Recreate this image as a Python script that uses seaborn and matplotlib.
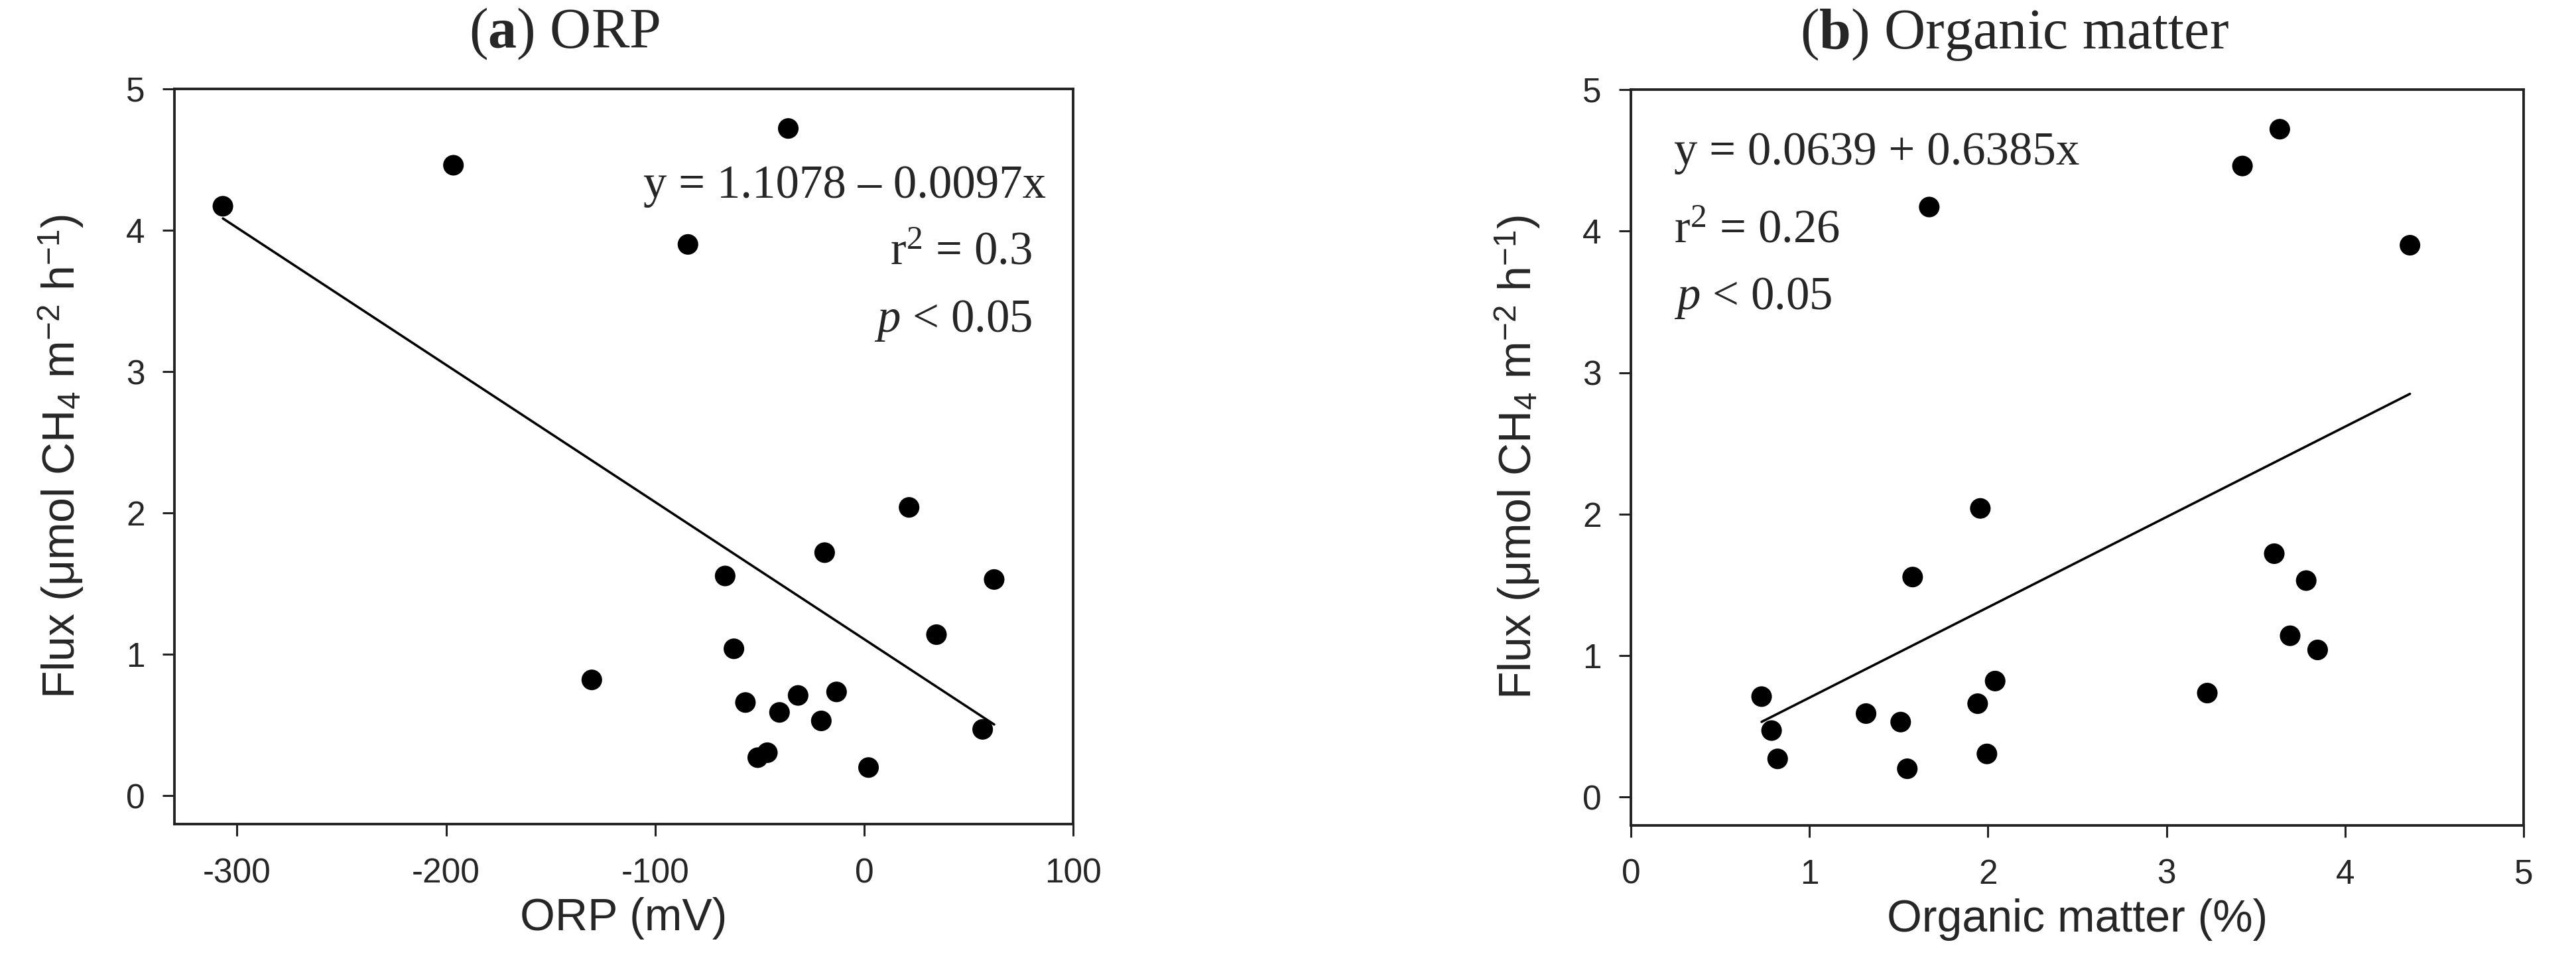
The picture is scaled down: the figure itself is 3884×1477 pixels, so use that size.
import matplotlib
matplotlib.use("Agg")
import matplotlib.pyplot as plt
import seaborn as sns
import pandas as pd

# values (one row per sampling site)
flux = [4.72, 4.46, 4.17, 3.90, 2.04, 1.72, 1.555, 1.53, 1.14, 1.04,
        0.82, 0.735, 0.71, 0.66, 0.59, 0.53, 0.47, 0.305, 0.27, 0.20]
orp = [-36.3, -196.5, -306.8, -84.3, 21.5, -18.9, -66.5, 62.2, 34.6, -62.3,
       -130.3, -13.2, -31.6, -56.8, -40.5, -20.5, 56.7, -46.3, -50.9, 2.1]
organic = [3.634, 3.425, 1.671, 4.363, 1.957, 3.603, 1.578, 3.782, 3.692, 3.846,
           2.04, 3.228, 0.732, 1.942, 1.317, 1.511, 0.788, 1.994, 0.822, 1.548]

# regression coefficients printed on the chart
orp_fit = (1.1078, -0.0097)
om_fit = (0.0639, 0.6385)

df = pd.DataFrame({"flux": flux, "orp": orp, "om": organic})

sns.set_style("ticks")
plt.rcParams["font.family"] = ["Liberation Sans", "DejaVu Sans"]
plt.rcParams["mathtext.fontset"] = "custom"
plt.rcParams["mathtext.rm"] = "Liberation Serif"
plt.rcParams["mathtext.it"] = "Liberation Serif:italic"
plt.rcParams["mathtext.bf"] = "Liberation Serif:bold"
plt.rcParams["mathtext.sf"] = "Liberation Sans"

fig = plt.figure(figsize=(19.42, 7.385), dpi=200)
ax1 = fig.add_axes([0.0677, 0.1591, 0.3489, 0.7502])
ax2 = fig.add_axes([0.6331, 0.1578, 0.3466, 0.7508])

ylab = r"Flux (μmol CH$_\mathsf{4}$ m$^{\mathsf{-2}}$ h$^{\mathsf{-1}}$)"
serif = ["Liberation Serif", "DejaVu Serif"]


def fit_line(ax, col, coef):
    xs = [df[col].min(), df[col].max()]
    line = pd.DataFrame({"x": xs, "y": [coef[0] + coef[1] * v for v in xs]})
    sns.lineplot(data=line, x="x", y="y", ax=ax, color="black", linewidth=1.3)


for ax, col, coef in [(ax1, "orp", orp_fit), (ax2, "om", om_fit)]:
    fit_line(ax, col, coef)
    sns.scatterplot(data=df, x=col, y="flux", ax=ax, color="black",
                    s=125, edgecolor="none", zorder=3)
    ax.set_ylim(-0.2, 5)
    ax.set_yticks([0, 1, 2, 3, 4, 5])
    ax.set_ylabel(ylab, fontsize=24.5, labelpad=22)
    for sp in ax.spines.values():
        sp.set_visible(True)
        sp.set_linewidth(1.4)
        sp.set_color("#222222")
    ax.tick_params(axis="both", direction="out", length=6.5, width=1.1,
                   color="#222222", labelsize=18.5)
    ax.tick_params(axis="y", pad=9.5)
    ax.tick_params(axis="x", pad=11.5)

ax1.set_xlim(-330, 100)
ax1.set_xticks([-300, -200, -100, 0, 100])
ax1.set_xticklabels(["-300", "-200", "-100", "0", "100"])
ax1.set_xlabel("ORP (mV)", fontsize=24.5, labelpad=4)

ax2.set_xlim(0, 5)
ax2.set_xticks([0, 1, 2, 3, 4, 5])
ax2.set_xlabel("Organic matter (%)", fontsize=24.5, labelpad=4)

# panel titles
fig.text(0.219, 0.965, r"($\mathbf{a}$) ORP", fontsize=31, family=serif,
         ha="center", va="center")
fig.text(0.782, 0.965, r"($\mathbf{b}$) Organic matter", fontsize=31,
         family=serif, ha="center", va="center")

# regression annotations
ann = dict(fontsize=25.5, family=serif, va="baseline")
ax1.text(87, 4.23, "y = 1.1078 – 0.0097x", ha="right", **ann)
ax1.text(80.3, 3.76, r"r$^2$ = 0.3", ha="right", **ann)
ax1.text(80.3, 3.28, r"$p$ < 0.05", ha="right", **ann)

ax2.text(0.24, 4.47, "y = 0.0639 + 0.6385x", ha="left", **ann)
ax2.text(0.24, 3.92, r"r$^2$ = 0.26", ha="left", **ann)
ax2.text(0.24, 3.45, r"$p$ < 0.05", ha="left", **ann)

fig.savefig("out.png", dpi=200, facecolor="white")
